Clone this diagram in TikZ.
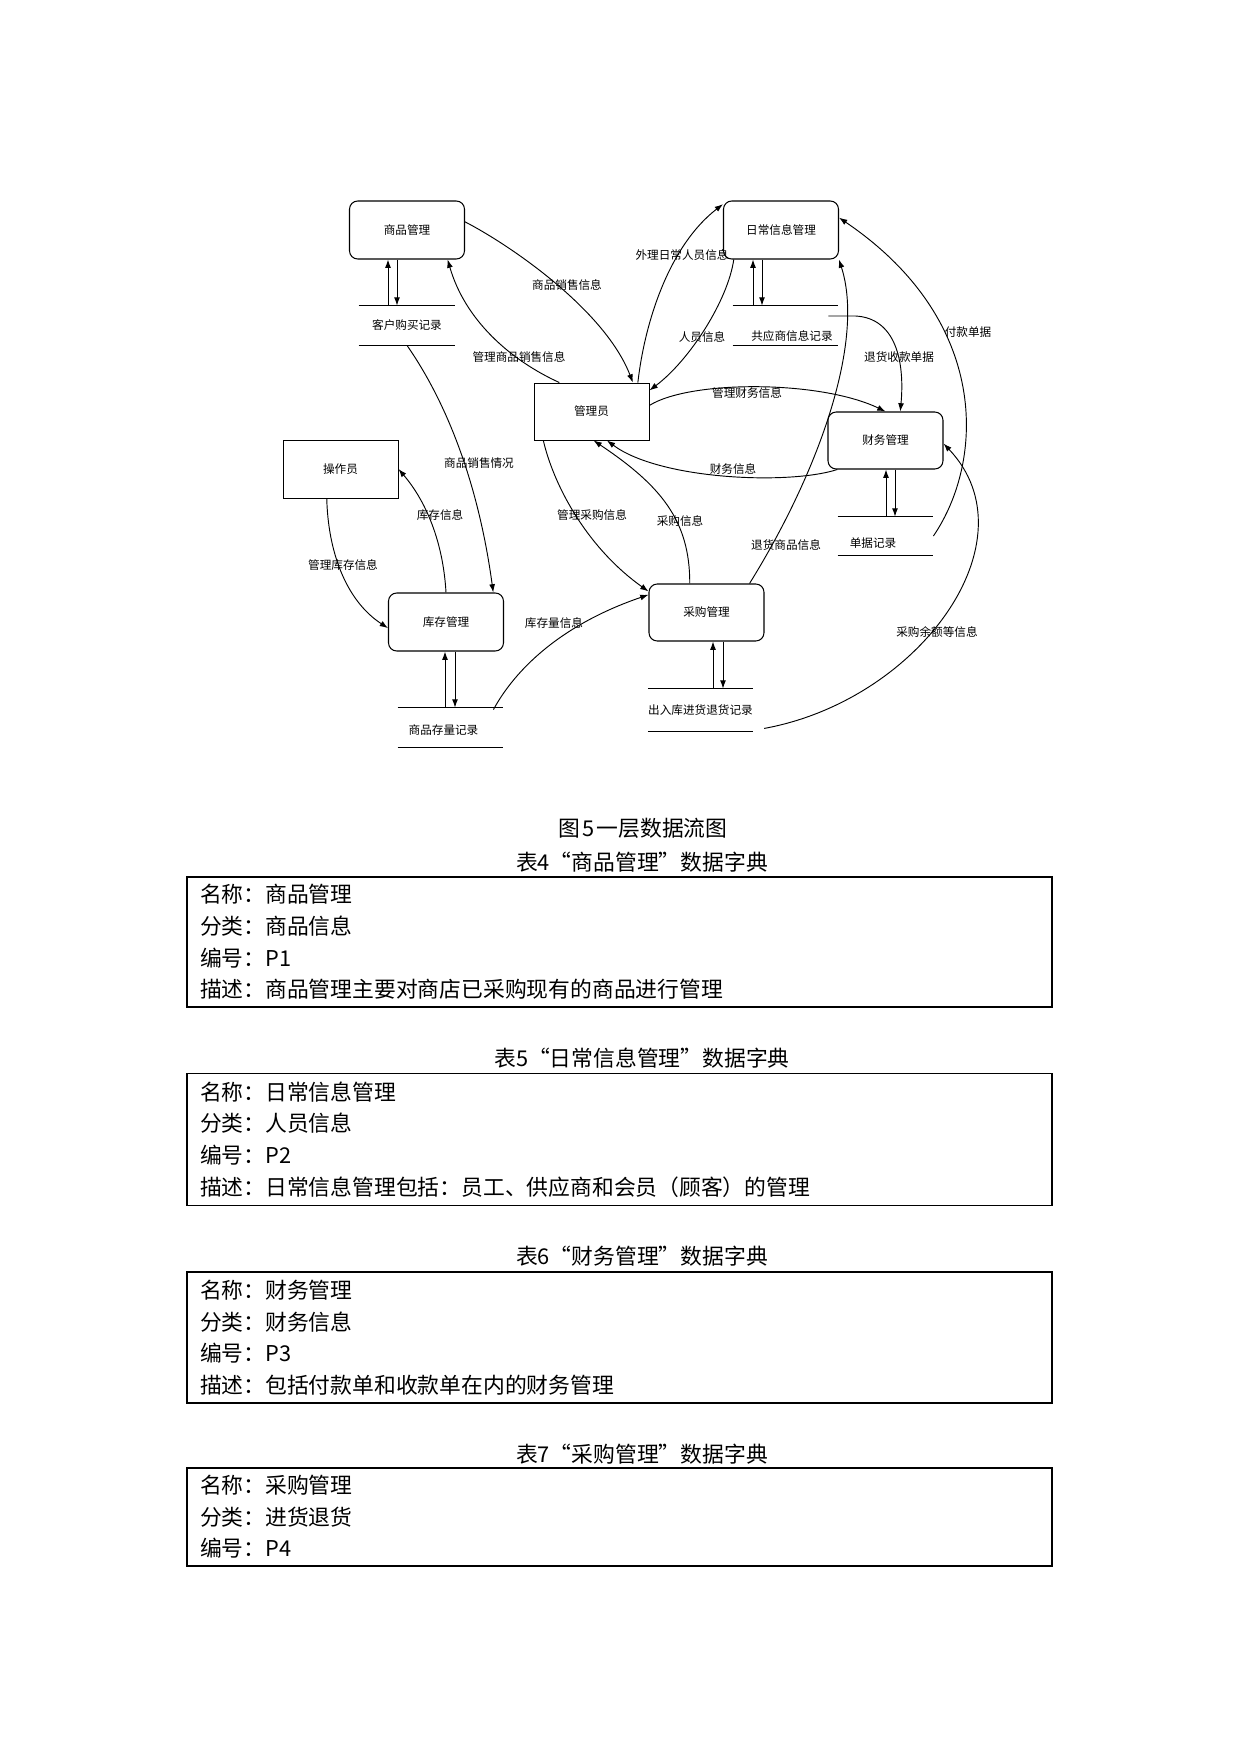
\documentclass[tikz,border=0pt]{standalone}
\usepackage{fontspec}
\setmainfont{Noto Sans CJK SC}
\usepackage{tikz}
\usetikzlibrary{arrows.meta, positioning, calc}
\newlength\pxu
\setlength\pxu{0.16935mm}

\begin{document}
\begin{tikzpicture}[
        x=\pxu, y=-\pxu,
        font=\fontsize{5.6pt}{6.7pt}\selectfont,
        proc/.style={rectangle, draw, line width=0.5pt, rounded corners=1.4mm, minimum width=115\pxu, minimum height=58\pxu, inner sep=0pt},
        ext/.style={rectangle, draw, line width=0.45pt, minimum width=115\pxu, minimum height=57\pxu, inner sep=0pt},
        store/.style={rectangle, minimum height=39\pxu, inner sep=0pt},
        flowlabel/.style={inner sep=0pt},
        line/.style={draw, line width=0.45pt, -{Latex[length=1.4mm, width=1mm]}},
        captext/.style={font=\fontsize{10.5pt}{12pt}\selectfont, inner sep=0pt},
        dictbox/.style={rectangle, draw, line width=0.7pt, text width=839\pxu, inner xsep=13\pxu, inner ysep=0pt, align=left, font=\fontsize{10.5pt}{15.2pt}\selectfont}
    ]
    \useasboundingbox (0,0) rectangle (1240,1754);

    % Nodes
    \node [proc] (goods) at (407,230) {商品管理};
    \node [proc] (daily) at (781,230) {日常信息管理};
    \node [ext] (admin) at (591.5,411.5) {管理员};
    \node [proc, minimum height=57\pxu] (finance) at (885.5,440.5) {财务管理};
    \node [ext, minimum height=58\pxu] (oper) at (340.5,469) {操作员};
    \node [proc, minimum height=57\pxu] (purchase) at (706.5,612.5) {采购管理};
    \node [proc] (stock) at (446,622) {库存管理};

    % Stores
    \node [store, minimum width=96\pxu] (custrec) at (407,325.5) {客户购买记录};
    \node [store, minimum width=105\pxu] (supprec) at (785.5,325.5) {\raisebox{-11\pxu}[\height][\depth]{\kern13\pxu 共应商信息记录}};
    \node [store, minimum width=95\pxu, minimum height=38\pxu] (billrec) at (885.5,536) {\raisebox{-7\pxu}[\height][\depth]{单据记录\kern25\pxu}};
    \node [store, minimum width=103\pxu, minimum height=42\pxu] (iorec) at (700.5,710) {出入库进货退货记录};
    \node [store, minimum width=105\pxu] (stockrec) at (450.5,727.5) {\raisebox{-3\pxu}[\height][\depth]{商品存量记录\kern14\pxu}};
    \foreach \s in {custrec, supprec, billrec, iorec, stockrec}
        \draw [line width=0.45pt] (\s.north west) -- (\s.north east) (\s.south west) -- (\s.south east);

    % Labels
    \node [flowlabel] (lsale) at (567,285) {商品销售信息};
    \node [flowlabel] (lmsale) at (519,357) {管理商品销售信息};
    \node [flowlabel] (ldaily) at (682,255) {外理日常人员信息};
    \node [flowlabel] (lstaff) at (702,337) {人员信息};
    \node [flowlabel] (lrefund) at (899,357) {退货收款单据};
    \node [flowlabel] (lpay) at (968,332) {付款单据};
    \node [flowlabel] (lmfin) at (747,393) {管理财务信息};
    \node [flowlabel] (lfin) at (733,469) {财务信息};
    \node [flowlabel] (lpur) at (680,521) {采购信息};
    \node [flowlabel] (lret) at (786,545) {退货商品信息};
    \node [flowlabel] (lamount) at (937,632) {采购余额等信息};
    \node [flowlabel] (lsold) at (479,463) {商品销售情况};
    \node [flowlabel] (lstock) at (440,515) {库存信息};
    \node [flowlabel] (lmstock) at (343,565) {管理库存信息};
    \node [flowlabel] (lmpur) at (592,515) {管理采购信息};
    \node [flowlabel] (lqty) at (554,623) {库存量信息};

    % Edges
    \path [line] (goods.8) .. controls (510,245) and (605,310) .. (admin.35);
    \path [line] (admin.138) .. controls (510,360) and (465,320) .. (goods.-36);
    \path [line] (custrec.south) .. controls (445,400) and (478,480) .. (stock.32);
    \path [line] (admin.32) .. controls (645,320) and (670,245) .. (daily.156);
    \path [line] (daily.-148) .. controls (728,300) and (690,360) .. (admin.20);
    \path [line] (admin.6) .. controls (690,380) and (820,380) .. (finance.north);
    \path [line] (finance.-149) .. controls (790,485) and (660,480) .. (admin.-62);
    \path [line] (admin.-149) .. controls (555,490) and (590,550) .. (purchase.160);
    \path [line] (purchase.120) .. controls (690,520) and (660,485) .. (admin.-86);
    \path [line] (purchase.34) .. controls (820,470) and (865,340) .. (daily.-27);
    \path [line] ($(supprec.east)+(-10,-9.5)$) -- ++(27,0) .. controls (895,318) and (905,360) .. (finance.63);
    \path [line] (billrec.east) .. controls (985,460) and (990,320) .. (daily.12);
    \path [line] ($(iorec.south east)+(11,-3)$) .. controls (920,700) and (1035,540) .. (finance.-3);
    \path [line] (stock.north) .. controls (443,540) and (425,500) .. (oper.east);
    \path [line] (oper.-115) .. controls (328,550) and (345,600) .. (stock.-174);
    \path [line] ($(stockrec.north east)+(-10,2)$) .. controls (515,670) and (560,625) .. (purchase.163);

    % Store access
    \foreach \p/\s/\u/\d in {goods/custrec/-19/-10, daily/supprec/-28/-19, finance/billrec/0.5/9.5, purchase/iorec/6.5/16.5, stock/stockrec/-1/9} {
        \path [line] ([xshift=\u\pxu]\p.south |- \s.north) -- ([xshift=\u\pxu]\p.south);
        \path [line] ([xshift=\d\pxu]\p.south) -- ([xshift=\d\pxu]\p.south |- \s.north);
    }

    % Captions and tables
    \node [captext] (fig5) at (643,828) {图\kern1pt 5\kern1pt 一层数据流图};
    \node [captext] (cap4) at (642,862) {表4“商品管理”数据字典};
    \node [dictbox, minimum height=130\pxu] (tab4) at (619.5,942) {名称：商品管理\\分类：商品信息\\编号：P1\\描述：商品管理主要对商店已采购现有的商品进行管理};
    \node [captext] (cap5) at (642,1058) {表5“日常信息管理”数据字典};
    \node [dictbox, minimum height=132\pxu] (tab5) at (619.5,1139.5) {名称：日常信息管理\\分类：人员信息\\编号：P2\\描述：日常信息管理包括：员工、供应商和会员（顾客）的管理};
    \node [captext] (cap6) at (642,1256) {表6“财务管理”数据字典};
    \node [dictbox, minimum height=131\pxu] (tab6) at (619.5,1337.5) {名称：财务管理\\分类：财务信息\\编号：P3\\描述：包括付款单和收款单在内的财务管理};
    \node [captext] (cap7) at (642,1454) {表7“采购管理”数据字典};
    \node [dictbox, minimum height=98\pxu] (tab7) at (619.5,1517) {名称：采购管理\\分类：进货退货\\编号：P4};

\end{tikzpicture}
\end{document}
